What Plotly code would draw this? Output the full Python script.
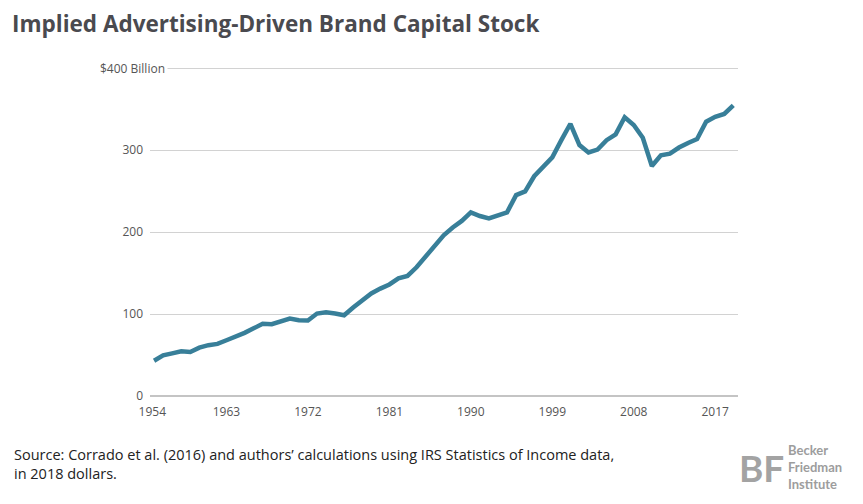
import plotly.graph_objects as go

# ---- data ----
years = list(range(1955, 2020))
brand_capital = [
    43, 49.5, 52, 54.5, 53.7, 59, 62, 63.5, 68, 72,
    77, 82.5, 88, 87.5, 90.5, 94.5, 92.5, 92, 100.5, 102,
    100.5, 98.5, 108, 117, 125, 131, 136, 143.5, 146.5, 157,
    170, 185, 196, 205.5, 213.5, 224, 219.5, 216.5, 220, 224,
    245, 249.5, 268, 280, 291, 312, 332, 306, 297, 300.5,
    312, 319, 340, 330.5, 315, 280.5, 293.5, 295.5, 303, 308.5,
    313.5, 334.5, 340.5, 344, 354.5,
]
x_tick_labels = ["1954", "1963", "1972", "1981", "1990", "1999", "2008", "2017"]
y_tick_vals = [0, 100, 200, 300, 400]
y_tick_labels = ["0", "100", "200", "300", ""]
top_label = "$400 Billion"

title_text = "Implied Advertising-Driven Brand Capital Stock"
source_text = ("Source: Corrado et al. (2016) and authors\u2019 calculations using IRS Statistics of Income data,"
               "<br>in 2018 dollars.")
logo_mark = "BF"
logo_lines = ["Becker", "Friedman", "Institute"]

# ---- layout (page has an 8px body margin, so work in reference px minus 8) ----
OFF = 8
W, H = 863 - OFF, 504 - OFF
plot_left, plot_right = 150 - OFF, 738 - OFF
plot_top, plot_bottom = 66 - OFF, 396 - OFF
L, R, T, B = plot_left, W - plot_right, plot_top, H - plot_bottom
pw, ph = plot_right - plot_left, plot_bottom - plot_top
y_top = ph / 0.82
x_range = [1954.55, 2019.52]
tick_vals = [max(float(t), x_range[0] + 0.25) for t in x_tick_labels]

def pxx(ref_px):
    return (ref_px - OFF - plot_left) / pw

def pxy(ref_py):
    return (plot_bottom - (ref_py - OFF)) / ph

fig = go.Figure()
fig.add_trace(go.Scatter(
    x=years, y=brand_capital, mode="lines",
    line=dict(color="#387f99", width=4.5),
    hoverinfo="skip", showlegend=False,
))

tick_font = dict(family="Open Sans", size=12, color="#555555")

annotations = [
    dict(text=top_label, xref="paper", yref="y", x=pxx(168), y=400,
         xanchor="right", yanchor="middle", showarrow=False, bgcolor="white",
         borderpad=2, font=tick_font),
    dict(text=source_text, xref="paper", yref="paper", x=pxx(12), y=pxy(443),
         xanchor="left", yanchor="top", align="left", showarrow=False,
         font=dict(family="Open Sans", size=14.5, color="#222222")),
    dict(text="<b>" + logo_mark + "</b>", xref="paper", yref="paper",
         x=pxx(737), y=pxy(467), xanchor="left", yanchor="middle", showarrow=False,
         font=dict(family="Lato", size=37, color="#a3a3a3")),
    dict(text="<br>".join("<b>" + s + "</b>" for s in logo_lines),
         xref="paper", yref="paper", x=pxx(786), y=pxy(467),
         xanchor="left", yanchor="middle", align="left", showarrow=False,
         font=dict(family="Lato", size=13, color="#9d9d9d")),
]

fig.update_layout(
    width=W, height=H,
    margin=dict(l=L, r=R, t=T, b=B, pad=0),
    paper_bgcolor="white", plot_bgcolor="white",
    font=dict(family="Open Sans", color="#555555"),
    title=dict(
        text=title_text, x=(12 - OFF) / W, xref="container", xanchor="left",
        y=1 - (24 - OFF) / H, yref="container", yanchor="middle",
        font=dict(family="Open Sans", size=22.5, color="#4a4a4f", weight="bold"),
    ),
    xaxis=dict(
        range=x_range, tickmode="array", tickvals=tick_vals, ticktext=x_tick_labels,
        showgrid=False, zeroline=False, showline=False, ticks="",
        tickfont=tick_font, ticklabelstandoff=7, fixedrange=True,
    ),
    yaxis=dict(
        range=[0, y_top], tickmode="array", tickvals=y_tick_vals, ticktext=y_tick_labels,
        showgrid=True, gridcolor="#d2d2d2", gridwidth=1,
        zeroline=True, zerolinecolor="#c4c4c4", zerolinewidth=2,
        showline=False, ticks="", tickfont=tick_font,
        ticklabelstandoff=6, fixedrange=True,
    ),
    annotations=annotations,
)

fig.write_html("out.html")
